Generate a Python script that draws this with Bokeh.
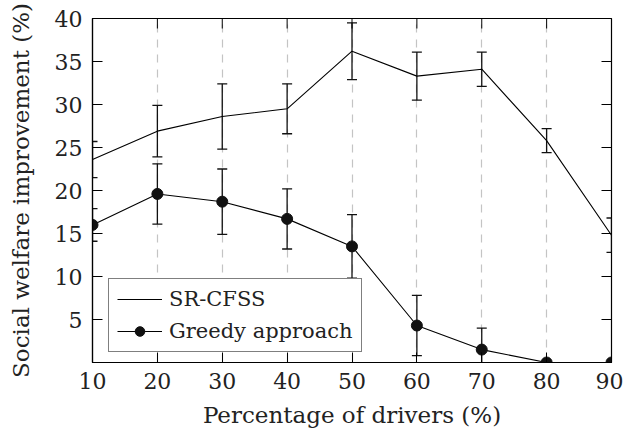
import math
from bokeh.plotting import figure
from bokeh.models import (ColumnDataSource, Whisker, TeeHead, FixedTicker,
                          Range1d, Legend)
from bokeh.embed import file_html
from bokeh.resources import INLINE

# ---- data ----
drivers = [10, 20, 30, 40, 50, 60, 70, 80, 90]
srcfss = [23.6, 26.9, 28.6, 29.5, 36.2, 33.3, 34.1, 25.8, 14.8]
srcfss_err = [2.1, 3.0, 3.8, 2.9, 3.3, 2.8, 2.0, 1.4, 2.0]
greedy = [16.0, 19.6, 18.7, 16.7, 13.5, 4.3, 1.5, 0.0, 0.0]
greedy_err = [1.9, 3.5, 3.8, 3.5, 3.7, 3.5, 2.5, 0.0, 0.0]
x_ticks = [10, 20, 30, 40, 50, 60, 70, 80, 90]
y_ticks = [5, 10, 15, 20, 25, 30, 35, 40]
grid_ticks = [20, 30, 40, 50, 60, 70, 80]
x_min, x_max = 10, 90
y_min, y_max = 0, 40

FONT = "DejaVu Serif"
TICK_FS = "22px"
LABEL_FS = "23px"
LEGEND_FS = "21px"
TXT = "#222222"

p = figure(frame_width=519, frame_height=344,
           x_range=Range1d(x_min, x_max), y_range=Range1d(y_min, y_max),
           output_backend="svg", toolbar_location=None,
           min_border_left=92, min_border_right=12, min_border_top=18, min_border_bottom=69,
           x_axis_label="Percentage of drivers (%)",
           y_axis_label="Social welfare improvement (%)")
p.background_fill_color = "white"
p.border_fill_color = "white"
p.outline_line_color = "black"
p.outline_line_width = 1.2

for ax in (p.xaxis[0], p.yaxis[0]):
    ax.major_tick_in = 10
    ax.major_tick_out = 0
    ax.minor_tick_line_color = None
    ax.axis_line_color = "black"
    ax.axis_line_width = 1.2
    ax.major_tick_line_width = 1
    ax.major_label_text_font = FONT
    ax.major_label_text_font_size = TICK_FS
    ax.major_label_text_color = TXT
    ax.axis_label_text_font = FONT
    ax.axis_label_text_font_size = LABEL_FS
    ax.axis_label_text_font_style = "normal"
    ax.axis_label_text_color = TXT

p.xaxis.ticker = FixedTicker(ticks=x_ticks)
p.yaxis.ticker = FixedTicker(ticks=y_ticks)
p.xaxis.major_label_standoff = 10
p.xaxis.axis_label_standoff = 10
p.yaxis.major_label_standoff = 10
p.yaxis.axis_label_standoff = 18

# mirrored (inward) ticks on the right and top edges, half clipped by the frame
p.scatter([x_max] * len(y_ticks), y_ticks, marker="dash", size=20,
          line_color="black", line_width=1)
p.scatter(x_ticks, [y_max] * len(x_ticks), marker="dash", size=20, angle=math.pi / 2,
          line_color="black", line_width=1)

p.xgrid.ticker = FixedTicker(ticks=grid_ticks)
p.xgrid.grid_line_color = "#c4c4c4"
p.xgrid.grid_line_dash = "8 7"
p.xgrid.grid_line_width = 1.2
p.ygrid.grid_line_color = None

# error bars
def err_source(xs, ys, es):
    xx, up, lo = [], [], []
    for xv, yv, ev in zip(xs, ys, es):
        if ev > 0:
            xx.append(xv); up.append(yv + ev); lo.append(yv - ev)
    return ColumnDataSource(dict(x=xx, upper=up, lower=lo))

for xs, ys, es in ((drivers, srcfss, srcfss_err), (drivers, greedy, greedy_err)):
    w = Whisker(source=err_source(xs, ys, es), base="x", upper="upper", lower="lower",
                line_color="#111111", line_width=1.3,
                upper_head=TeeHead(size=10, line_color="#111111", line_width=1.3),
                lower_head=TeeHead(size=10, line_color="#111111", line_width=1.3))
    p.add_layout(w)

r1 = p.line(drivers, srcfss, line_color="black", line_width=1.1)
r2 = p.line(drivers, greedy, line_color="black", line_width=1.1)
r3 = p.scatter(drivers, greedy, size=11, fill_color="#111111", line_color="#111111")

legend = Legend(items=[("SR-CFSS", [r1]), ("Greedy approach", [r2, r3])],
                location=(16, 10))
legend.label_text_font = FONT
legend.label_text_font_size = LEGEND_FS
legend.label_text_color = TXT
legend.glyph_width = 45
legend.glyph_height = 24
legend.label_height = 24
legend.label_standoff = 7
legend.spacing = 8
legend.padding = 8
legend.margin = 0
legend.border_line_color = "black"
legend.border_line_width = 1.2
legend.background_fill_alpha = 1.0
p.add_layout(legend, "center")

open("out.html", "w").write(file_html(p, INLINE))
